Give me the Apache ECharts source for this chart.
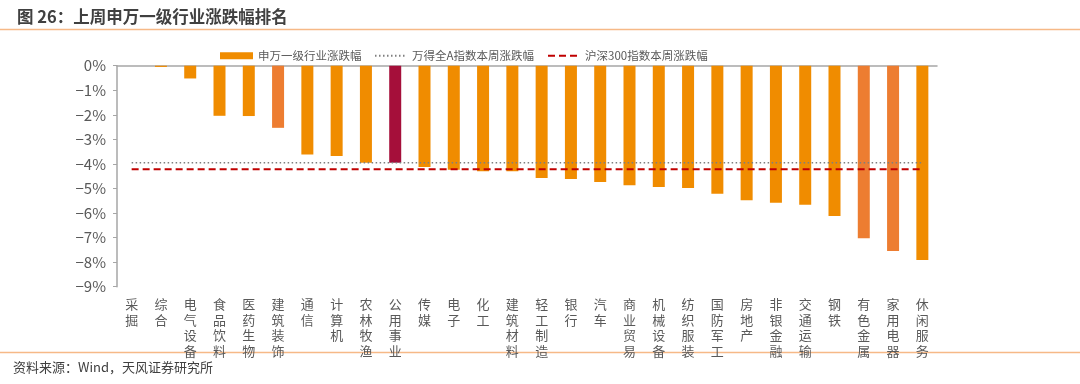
<!DOCTYPE html>
<html><head><meta charset="utf-8">
<script src="https://cdn.jsdelivr.net/npm/echarts@6/dist/echarts.min.js"></script>
<style>html,body{margin:0;padding:0;background:#fff}#c{width:1080px;height:384px}</style>
</head><body><div id="c"></div>
<script>
const categories = ['采掘','综合','电气设备','食品饮料','医药生物','建筑装饰','通信','计算机','农林牧渔','公用事业','传媒','电子','化工','建筑材料','轻工制造','银行','汽车','商业贸易','机械设备','纺织服装','国防军工','房地产','非银金融','交通运输','钢铁','有色金属','家用电器','休闲服务'];
const industryChange = [0.0,-0.05,-0.52,-2.04,-2.05,-2.53,-3.62,-3.68,-3.95,-3.95,-4.13,-4.24,-4.30,-4.30,-4.57,-4.61,-4.74,-4.87,-4.94,-4.98,-5.21,-5.48,-5.58,-5.66,-6.12,-7.03,-7.55,-7.91];
const windAChange = -3.95;
const hs300Change = -4.22;

const seriesNames = ['申万一级行业涨跌幅','万得全A指数本周涨跌幅','沪深300指数本周涨跌幅'];
const baseColor = '#F08C00';
const specialColors = {'建筑装饰':'#ED7D31','有色金属':'#ED7D31','家用电器':'#ED7D31','公用事业':'#A50F3A'};

const chart = echarts.init(document.getElementById('c'));
const txt = '#595959';
const legendText = {fontSize:11.5,color:txt};
chart.setOption({
  animation:false,
  textStyle:{fontFamily:'"Noto Sans CJK SC","Noto Sans",sans-serif'},
  title:{text:'图 26：上周申万一级行业涨跌幅排名',left:12,top:3,textStyle:{fontSize:16.5,fontWeight:'bold',color:'#404040'}},
  graphic:[
    {type:'line',shape:{x1:0,y1:29.5,x2:1080,y2:29.5},style:{stroke:'#F6B987',lineWidth:1.5}},
    {type:'line',shape:{x1:0,y1:352.5,x2:1080,y2:352.5},style:{stroke:'#F6B987',lineWidth:1.5}},
    {type:'text',left:13,top:361,style:{text:'资料来源：Wind，天风证券研究所',fontSize:13,fill:'#404040',fontFamily:'"Noto Sans CJK SC",sans-serif'}}
  ],
  legend:[
    {data:[seriesNames[0]],left:215,top:45,itemWidth:33,itemHeight:7,itemGap:4,textStyle:legendText,icon:'rect'},
    {data:[seriesNames[1]],left:369,top:45,itemWidth:32,itemHeight:7,textStyle:legendText,itemStyle:{opacity:0}},
    {data:[seriesNames[2]],left:542,top:45,itemWidth:32,itemHeight:7,textStyle:legendText,itemStyle:{opacity:0}}
  ],
  grid:{left:117,right:143,top:65.7,bottom:97.3},
  xAxis:[
    {type:'category',data:categories,position:'bottom',axisLine:{show:false},axisTick:{show:false},
     axisLabel:{interval:0,margin:10,fontSize:13,lineHeight:15.5,color:txt,verticalAlign:'top',
       formatter:v=>v.split('').join('\n')}},
    {type:'category',data:categories,position:'top',axisLine:{show:true,lineStyle:{color:'#A6A6A6',width:1.5}},axisTick:{show:false},axisLabel:{show:false}}
  ],
  yAxis:{type:'value',min:-9,max:0,interval:1,
    axisLine:{show:true,lineStyle:{color:'#A6A6A6',width:1.5}},
    axisTick:{show:true,length:4,lineStyle:{color:'#A6A6A6'}},
    splitLine:{show:false},
    axisLabel:{fontSize:15,color:txt,margin:11,formatter:v=>(v<0?'−':'')+Math.abs(v)+'%'}},
  series:[
    {name:seriesNames[0],type:'bar',barWidth:12,xAxisIndex:0,
     itemStyle:{color:baseColor},
     data:industryChange.map((v,i)=>({value:v,itemStyle:{color:specialColors[categories[i]]||baseColor}}))},
    {name:seriesNames[1],type:'line',xAxisIndex:0,symbol:'none',
     lineStyle:{color:'#7F7F7F',width:1.5,type:[1.5,2.5]},itemStyle:{color:'#7F7F7F'},
     data:categories.map(()=>windAChange)},
    {name:seriesNames[2],type:'line',xAxisIndex:0,symbol:'none',
     lineStyle:{color:'#C00000',width:2,type:[7,4]},itemStyle:{color:'#C00000'},
     data:categories.map(()=>hs300Change)}
  ]
});
</script></body></html>
